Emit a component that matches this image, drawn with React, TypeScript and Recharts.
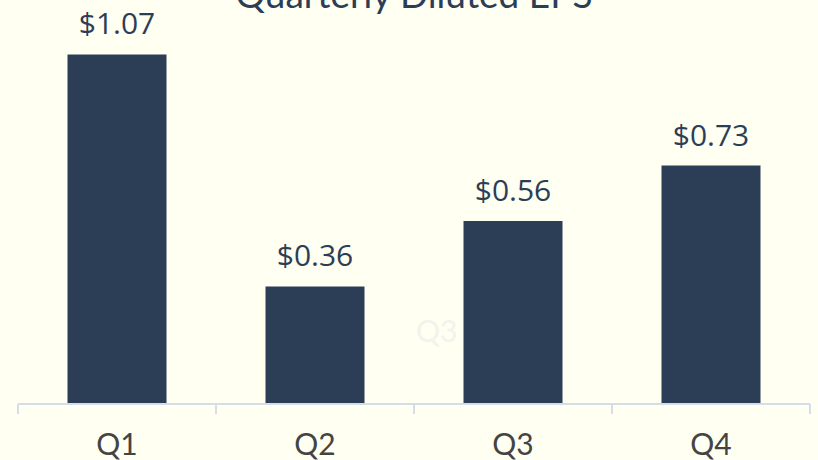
import { Bar, BarChart, LabelList, XAxis, YAxis } from "recharts";

const QUARTERS = ["Q1", "Q2", "Q3", "Q4"];
const EPS = [1.07, 0.36, 0.56, 0.73];

const NAVY = "#2c3e56";
const BG = "#fffff2";
const AXIS = "#d3deea";
const TICK_SIZE = 10;
const TICK_MARGIN = 20;

const data = QUARTERS.map((q, i) => ({ quarter: q, eps: EPS[i] }));

// category tick with tick marks drawn on the band edges, not the centre
function QuarterTick(props: any) {
  const { x, y, width, visibleTicksCount, index, payload } = props;
  const half = width / (2 * visibleTicksCount);
  const axisY = y - TICK_SIZE - TICK_MARGIN;
  return (
    <g>
      <line x1={x - half} x2={x - half} y1={axisY} y2={axisY + TICK_SIZE} stroke={AXIS} strokeWidth={2} />
      {index === visibleTicksCount - 1 && (
        <line x1={x + half} x2={x + half} y1={axisY} y2={axisY + TICK_SIZE} stroke={AXIS} strokeWidth={2} />
      )}
      <text
        x={x}
        y={y}
        dy="0.71em"
        textAnchor="middle"
        fontSize={30}
        fill="#444444"
        fontFamily="Lato, sans-serif"
      >
        {payload.value}
      </text>
    </g>
  );
}

export default function App() {
  return (
    <div
      style={{
        position: "fixed",
        left: 0,
        top: 0,
        width: 818,
        height: 460,
        background: BG,
        overflow: "hidden",
      }}
    >
      <div
        style={{
          position: "absolute",
          left: 0,
          width: 828,
          top: -26,
          textAlign: "center",
          fontFamily: "Lato, sans-serif",
          fontSize: 37,
          color: NAVY,
          lineHeight: "40px",
        }}
      >
        Quarterly Diluted EPS
      </div>
      <div
        style={{
          position: "absolute",
          left: 416,
          top: 312,
          fontFamily: "Lato, sans-serif",
          fontSize: 30,
          color: "#f3f3ee",
        }}
      >
        Q3
      </div>
      <BarChart
        width={818}
        height={460}
        data={data}
        margin={{ top: 12, right: 8, left: 18, bottom: 0 }}
        barCategoryGap="25%"
      >
        <XAxis
          dataKey="quarter"
          height={56}
          stroke={AXIS}
          strokeWidth={2}
          tickLine={false}
          tickSize={TICK_SIZE}
          tickMargin={TICK_MARGIN}
          interval={0}
          tick={<QuarterTick />}
        />
        <YAxis hide domain={[0, 1.2]} />
        <Bar dataKey="eps" fill={NAVY} isAnimationActive={false}>
          <LabelList
            dataKey="eps"
            position="top"
            offset={20}
            formatter={(v: number) => `$${v.toFixed(2)}`}
            style={{ fontSize: 30, fill: NAVY, fontFamily: "Open Sans, sans-serif" }}
          />
        </Bar>
      </BarChart>
    </div>
  );
}
